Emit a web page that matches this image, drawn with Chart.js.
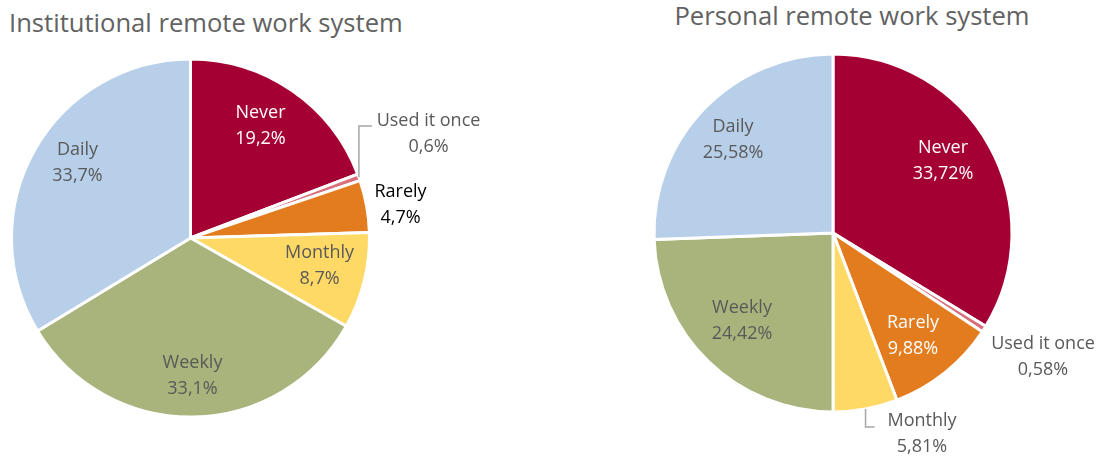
<!DOCTYPE html>
<html>
<head>
<meta charset="utf-8">
<script src="https://cdn.jsdelivr.net/npm/chart.js@4.4.0/dist/chart.umd.min.js"></script>
<style>
  html, body { margin: 0; padding: 0; background: #fff; }
  body { width: 1104px; height: 458px; position: relative; overflow: hidden; font-family: 'Open Sans', sans-serif; }
  .title { position: absolute; color: #626262; font-size: 25.6px; white-space: nowrap; line-height: 1; }
  #t1 { left: 9px; top: 10px; }
  #t2 { left: 852px; top: 3px; transform: translateX(-50%); }
  .box { position: absolute; top: 0; width: 552px; height: 458px; }
  #b1 { left: 0; }
  #b2 { left: 552px; }
</style>
</head>
<body>
<div class="title" id="t1">Institutional remote work system</div>
<div class="title" id="t2">Personal remote work system</div>
<div class="box" id="b1"><canvas id="cInst"></canvas></div>
<div class="box" id="b2"><canvas id="cPers"></canvas></div>
<script>
// data
const categories = ['Never', 'Used it once', 'Rarely', 'Monthly', 'Weekly', 'Daily'];
const institutional = [19.2, 0.6, 4.7, 8.7, 33.1, 33.7];
const personal = [33.72, 0.58, 9.88, 5.81, 24.42, 25.58];

const colors = ['#A50034', '#D8707C', '#E37C1E', '#FFD966', '#A9B47C', '#B8CFEA'];
const grey = '#595959';

// label block offsets from pie centre, text colour
const instLayout = [
    { dx: 70, dy: -112, c: '#fff' },
    { dx: 238, dy: -104, c: grey },
    { dx: 210, dy: -33, c: '#000' },
    { dx: 129, dy: 28, c: grey },
    { dx: 2, dy: 138, c: grey },
    { dx: -113, dy: -75, c: grey }
];
const persLayout = [
    { dx: 110, dy: -72, c: '#fff' },
    { dx: 210, dy: 124, c: grey },
    { dx: 80, dy: 103, c: '#fff' },
    { dx: 89, dy: 201, c: grey },
    { dx: -91, dy: 88, c: grey },
    { dx: -100, dy: -93, c: grey }
];

const pct = (v, d) => v.toFixed(d).replace('.', ',') + '%';

// draws the slice labels and leader line
const sliceLabels = {
    id: 'sliceLabels',
    afterDatasetsDraw(chart, args, opts) {
        const ctx = chart.ctx;
        const meta = chart.getDatasetMeta(0);
        const vals = chart.data.datasets[0].data;
        ctx.save();

        if (opts.leader) {
            const arc = meta.data[opts.leader.index];
            const mid = (arc.startAngle + arc.endAngle) / 2;
            const sx = arc.x + Math.cos(mid) * arc.outerRadius;
            const sy = arc.y + Math.sin(mid) * arc.outerRadius;
            const cy = arc.y + opts.leader.toY;
            ctx.strokeStyle = '#A6A6A6';
            ctx.lineWidth = 1.5;
            ctx.beginPath();
            ctx.moveTo(sx, sy);
            ctx.lineTo(sx, cy);
            ctx.lineTo(sx + opts.leader.len, cy);
            ctx.stroke();
        }

        ctx.font = '18px "Open Sans"';
        ctx.textAlign = 'center';
        ctx.textBaseline = 'middle';
        meta.data.forEach((arc, i) => {
            const l = opts.layout[i];
            const x = arc.x + l.dx, y = arc.y + l.dy;
            ctx.fillStyle = l.c;
            ctx.fillText(chart.data.labels[i], x, y - 13);
            ctx.fillText(pct(vals[i], opts.decimals), x, y + 13);
        });
        ctx.restore();
    }
};

function makePie(id, values, layout, decimals, leader, padding) {
    return new Chart(document.getElementById(id), {
        type: 'pie',
        data: {
            labels: categories,
            datasets: [{
                data: values,
                backgroundColor: colors,
                borderColor: '#fff',
                borderWidth: 3
            }]
        },
        options: {
            responsive: true,
            maintainAspectRatio: false,
            animation: false,
            radius: 179,
            layout: { padding: padding },
            plugins: {
                legend: { display: false },
                tooltip: { enabled: false },
                sliceLabels: { layout: layout, decimals: decimals, leader: leader }
            }
        },
        plugins: [sliceLabels]
    });
}

makePie('cInst', institutional, instLayout, 1, { index: 1, toY: -112, len: 13 },
    { left: 0, right: 171, top: 18, bottom: 0 });
makePie('cPers', personal, persLayout, 2, { index: 3, toY: 194, len: 9 },
    { left: 10, right: 0, top: 8, bottom: 0 });
</script>
</body>
</html>
